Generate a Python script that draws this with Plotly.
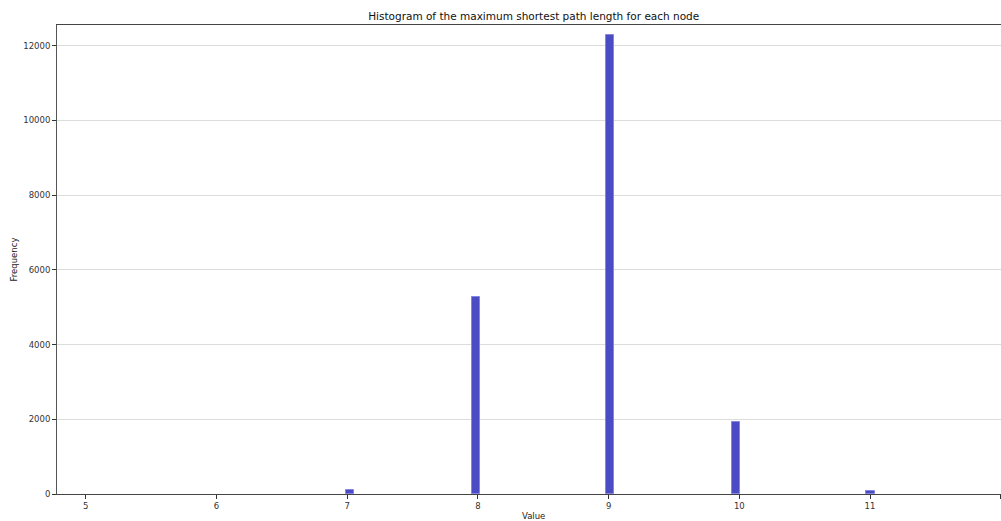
import math
import plotly.graph_objects as go

# Eccentricity (maximum shortest path length) values and how many nodes have each
values = [7, 8, 9, 10, 11]
counts = [120, 5270, 12290, 1920, 90]

# Histogram binning: fixed-width bins starting at the smallest possible value
bin_origin = 5.0
bin_width = 0.0642

bin_left = [bin_origin + math.floor((v - bin_origin) / bin_width) * bin_width for v in values]
bin_center = [b + bin_width / 2 for b in bin_left]

x_ticks = [5, 6, 7, 8, 9, 10, 11, 12]
y_ticks = [0, 2000, 4000, 6000, 8000, 10000, 12000]

font_family = "DejaVu Sans"

fig = go.Figure(
    go.Bar(
        x=bin_center,
        y=counts,
        width=[bin_width] * len(values),
        marker=dict(color="#4b4bc4", line=dict(color="#8585e6", width=1)),
        hoverinfo="x+y",
    )
)

W, H = 1001, 521
ml, mr, mt, mb = 57, 0, 25, 27
plot_w = W - ml - mr
plot_h = H - mt - mb

fig.update_layout(
    width=W,
    height=H,
    autosize=False,
    margin=dict(l=ml, r=mr, t=mt, b=mb, pad=0),
    plot_bgcolor="white",
    paper_bgcolor="white",
    font=dict(family=font_family, size=9, color="#222"),
    showlegend=False,
    bargap=0,
    title=dict(
        text="Histogram of the maximum shortest path length for each node",
        font=dict(family=font_family, size=10.5, color="#111"),
        xref="container",
        x=533.7 / W,
        xanchor="center",
        yref="container",
        y=1 - 16 / H,
        yanchor="middle",
    ),
)

fig.update_xaxes(
    range=[4.78, 12.002],
    tickvals=x_ticks,
    ticktext=[str(t) for t in x_ticks],
    ticks="outside",
    ticklen=4,
    tickwidth=1,
    tickcolor="#333",
    tickfont=dict(family=font_family, size=8.5, color="#333"),
    showline=True,
    linecolor="#444",
    linewidth=1,
    mirror=True,
    showgrid=False,
    zeroline=False,
)

fig.update_yaxes(
    range=[0, 12556],
    tickvals=y_ticks,
    tickformat="d",
    ticks="outside",
    ticklen=4,
    tickwidth=1,
    tickcolor="#333",
    tickfont=dict(family=font_family, size=8.5, color="#333"),
    showline=True,
    linecolor="#555",
    linewidth=1,
    mirror=False,
    showgrid=True,
    gridcolor="#dcdcdc",
    gridwidth=1,
    zeroline=False,
)

# Axis titles
fig.add_annotation(
    text="Value",
    xref="paper", yref="paper",
    x=(533.0 - ml) / plot_w,
    y=-(516.0 - (mt + plot_h)) / plot_h,
    xanchor="center", yanchor="middle",
    showarrow=False,
    font=dict(family=font_family, size=8.5, color="#222"),
)
fig.add_annotation(
    text="Frequency",
    xref="paper", yref="paper",
    x=(13.0 - ml) / plot_w,
    y=0.5,
    xanchor="center", yanchor="middle",
    textangle=-90,
    showarrow=False,
    font=dict(family=font_family, size=8.5, color="#222"),
)

fig.write_html("out.html")
